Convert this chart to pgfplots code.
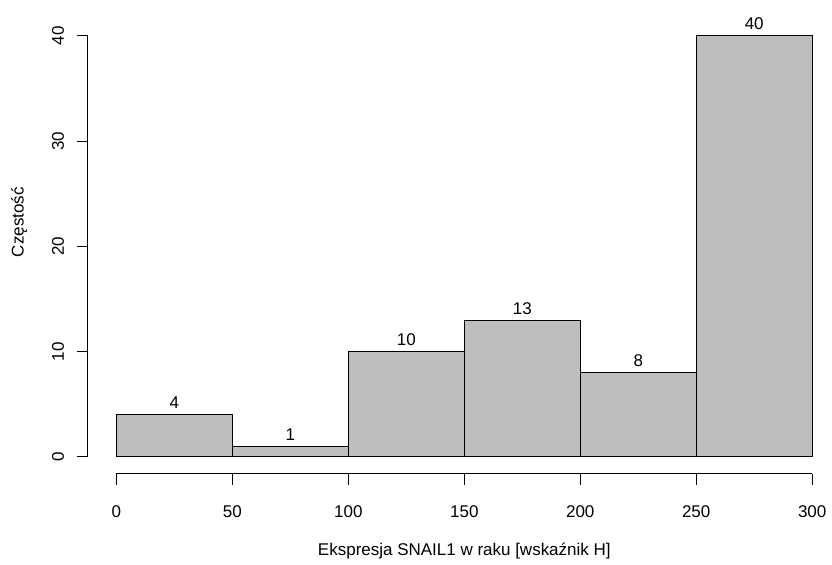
\documentclass[border=0pt]{standalone}
\usepackage{fontspec}
\setmainfont{Liberation Sans}
\usepackage{pgfplots}
\pgfplotsset{compat=1.18}
\begin{document}
\fontsize{12.8}{15}\selectfont
\begin{tikzpicture}
\begin{axis}[
  name=ax,
  scale only axis,
  width=524.25pt, height=317.25pt,
  xmin=0, xmax=300, ymin=0, ymax=40,
  axis lines=left,
  axis line style={-, line width=0.75pt},
  axis x line shift=12.75pt,
  axis y line shift=21.75pt,
  xtick={0,50,...,300},
  ytick={0,10,...,40},
  tick align=outside,
  major tick length=8.25pt,
  tick style={line width=0.75pt, black},
  /pgf/number format/assume math mode=true,
  yticklabel style={rotate=90, anchor=south, yshift=5pt},
  xticklabel style={anchor=north, yshift=-11pt},
  clip=false,
  ybar, bar width=50, bar shift=0pt,
  nodes near coords,
  every node near coord/.append style={anchor=base, yshift=4.5pt, inner sep=0pt},
]
\addplot[fill={rgb,255:red,190;green,190;blue,190}, draw=black, line width=0.75pt]
coordinates {(25,4) (75,1) (125,10) (175,13) (225,8) (275,40)};
\node[rotate=90, anchor=center] at (axis cs:-42,22.3) {Częstość};
\node[anchor=center] at (axis cs:150,-8.9) {Ekspresja SNAIL1 w raku [wskaźnik H]};
\end{axis}
\useasboundingbox ([xshift=-87.75pt,yshift=-78.75pt]ax.south west) rectangle ([xshift=12pt,yshift=27pt]ax.north east);
\end{tikzpicture}
\end{document}
